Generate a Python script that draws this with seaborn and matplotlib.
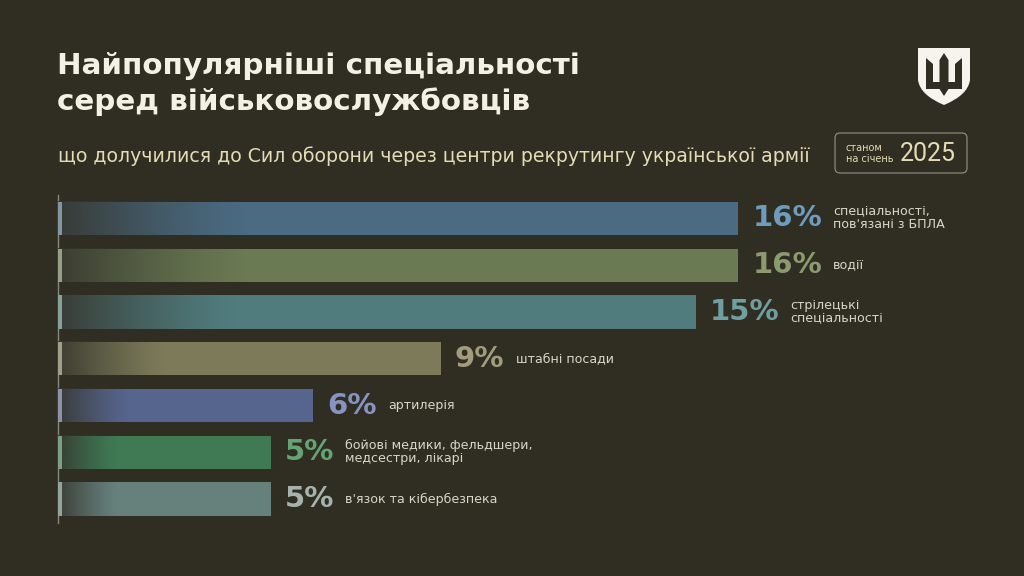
"""
plot.py

Top specialties of servicemen recruited via recruiting centres (Jan 2025).
"""

import matplotlib
matplotlib.use("Agg")
import matplotlib.pyplot as plt
from matplotlib.patches import Rectangle, FancyBboxPatch, PathPatch, Polygon
from matplotlib.path import Path
from matplotlib.colors import to_rgb
import numpy as np
import seaborn as sns

# data
categories = [
    "спеціальності,\nпов'язані з БПЛА",
    "водії",
    "стрілецькі\nспеціальності",
    "штабні посади",
    "артилерія",
    "бойові медики, фельдшери,\nмедсестри, лікарі",
    "в'язок та кібербезпека",
]
values = [16, 16, 15, 9, 6, 5, 5]

bar_colors = ["#4a6b82", "#6a7a52", "#507c7e", "#7c7a58", "#56658e", "#3f7a55", "#66807c"]
pct_colors = ["#6e9cbf", "#8c9a70", "#6f9fa0", "#a09c7c", "#8894c0", "#64a474", "#a6b2ae"]

title_lines = ["Найпопулярніші спеціальності", "серед військовослужбовців"]
subtitle = "що долучилися до Сил оборони через центри рекрутингу української армії"

BG = "#302e22"
TITLE_C = "#f4f1e4"
SUB_C = "#e3dcb5"
LABEL_C = "#d9d6c8"

sns.set_theme(style="white")
plt.rcParams["font.family"] = ["DejaVu Sans"]

W, H = 1024, 576
fig = plt.figure(figsize=(W / 100, H / 100), dpi=100, facecolor=BG)
ax = fig.add_axes([58 / W, 1 - 522.5 / H, 935 / W, 327.5 / H])
ax.set_facecolor(BG)

sns.barplot(x=values, y=categories, hue=categories, palette=bar_colors,
            orient="h", width=0.71, saturation=1, legend=False, ax=ax,
            linewidth=0, edgecolor="none")

ax.set_xlim(0, 22)
ylim = ax.get_ylim()

# gradient fade at the left of each bar + thin light edge
bg_rgb = np.array(to_rgb("#36362e"))
for patch, col in zip(ax.patches, bar_colors):
    x0, y0 = patch.get_x(), patch.get_y()
    w, h = patch.get_width(), patch.get_height()
    ramp = np.linspace(0, 1, 256)
    alpha = 0.9 * (1 - ramp) ** 1.3
    img = np.zeros((1, 256, 4))
    img[..., :3] = bg_rgb
    img[..., 3] = alpha
    ax.imshow(img, extent=(x0, x0 + w * 0.28, y0 + h, y0), aspect="auto",
              interpolation="bilinear", zorder=3)
    edge = np.array(to_rgb(col)) * 0.6 + 0.4 * np.array([0.85, 0.85, 0.8])
    ax.add_patch(Rectangle((x0, y0), 0.1, h, color=edge, lw=0, zorder=4))

ax.set_ylim(ylim)

for i, (v, lab) in enumerate(zip(values, categories)):
    t = ax.text(v + 0.34, i, f"{v}%", va="center", ha="left", fontsize=21,
                fontweight="bold", color=pct_colors[i])
    ax.annotate(lab, xy=(1, 0.5), xycoords=t, xytext=(8, 0),
                textcoords="offset points", va="center", ha="left",
                fontsize=9.1, color=LABEL_C, linespacing=1.0)

ax.set_xticks([])
ax.set_yticks([])
ax.set_xlabel("")
ax.set_ylabel("")
for s in ["top", "right", "bottom"]:
    ax.spines[s].set_visible(False)
ax.spines["left"].set_color("#8a887a")
ax.spines["left"].set_linewidth(1)

# titles
fig.text(57 / W, 1 - 73.5 / H, title_lines[0], fontsize=21.2, fontweight="bold",
         color=TITLE_C, va="baseline")
fig.text(57 / W, 1 - 110.5 / H, title_lines[1], fontsize=21.2, fontweight="bold",
         color=TITLE_C, va="baseline")
fig.text(58 / W, 1 - 161.5 / H, subtitle, fontsize=13.6, color=SUB_C,
         va="baseline")

# date box
tr = fig.dpi_scale_trans
box = FancyBboxPatch((835 / 100, (H - 173) / 100), 1.32, 0.40,
                     boxstyle="round,pad=0,rounding_size=0.05",
                     transform=tr, fill=False, ec="#8a887a", lw=0.9)
fig.patches.append(box)
fig.text(846 / W, 1 - 148 / H, "станом", fontsize=7, color=SUB_C, va="center")
fig.text(846 / W, 1 - 159 / H, "на січень", fontsize=7, color=SUB_C, va="center")
fig.text(900 / W, 1 - 154 / H, "2025", fontsize=18, fontweight="normal",
         color=SUB_C, va="center", family=["Roboto", "DejaVu Sans"])


# emblem
def px(x, y):
    return (x / 100, (H - y) / 100)


verts = [px(918, 48), px(970, 48), px(970, 80), px(968, 95), px(944, 105),
         px(920, 95), px(918, 80), px(918, 48)]
codes = [Path.MOVETO, Path.LINETO, Path.LINETO, Path.CURVE3, Path.CURVE3,
         Path.CURVE3, Path.CURVE3, Path.CLOSEPOLY]
fig.patches.append(PathPatch(Path(verts, codes), transform=tr, fc="#f6f4ec", lw=0))

trident = [
    [px(926, 58), px(933, 64), px(933, 82), px(926, 89)],
    [px(962, 58), px(955, 64), px(955, 82), px(962, 89)],
    [px(926, 82), px(962, 82), px(962, 89), px(926, 89)],
    [px(944, 53), px(948.5, 60), px(948.5, 89), px(944, 96), px(939.5, 89),
     px(939.5, 60)],
]
for poly in trident:
    fig.patches.append(Polygon(poly, closed=True, transform=tr, fc=BG, lw=0))

fig.savefig("out.png", dpi=100, facecolor=BG)
